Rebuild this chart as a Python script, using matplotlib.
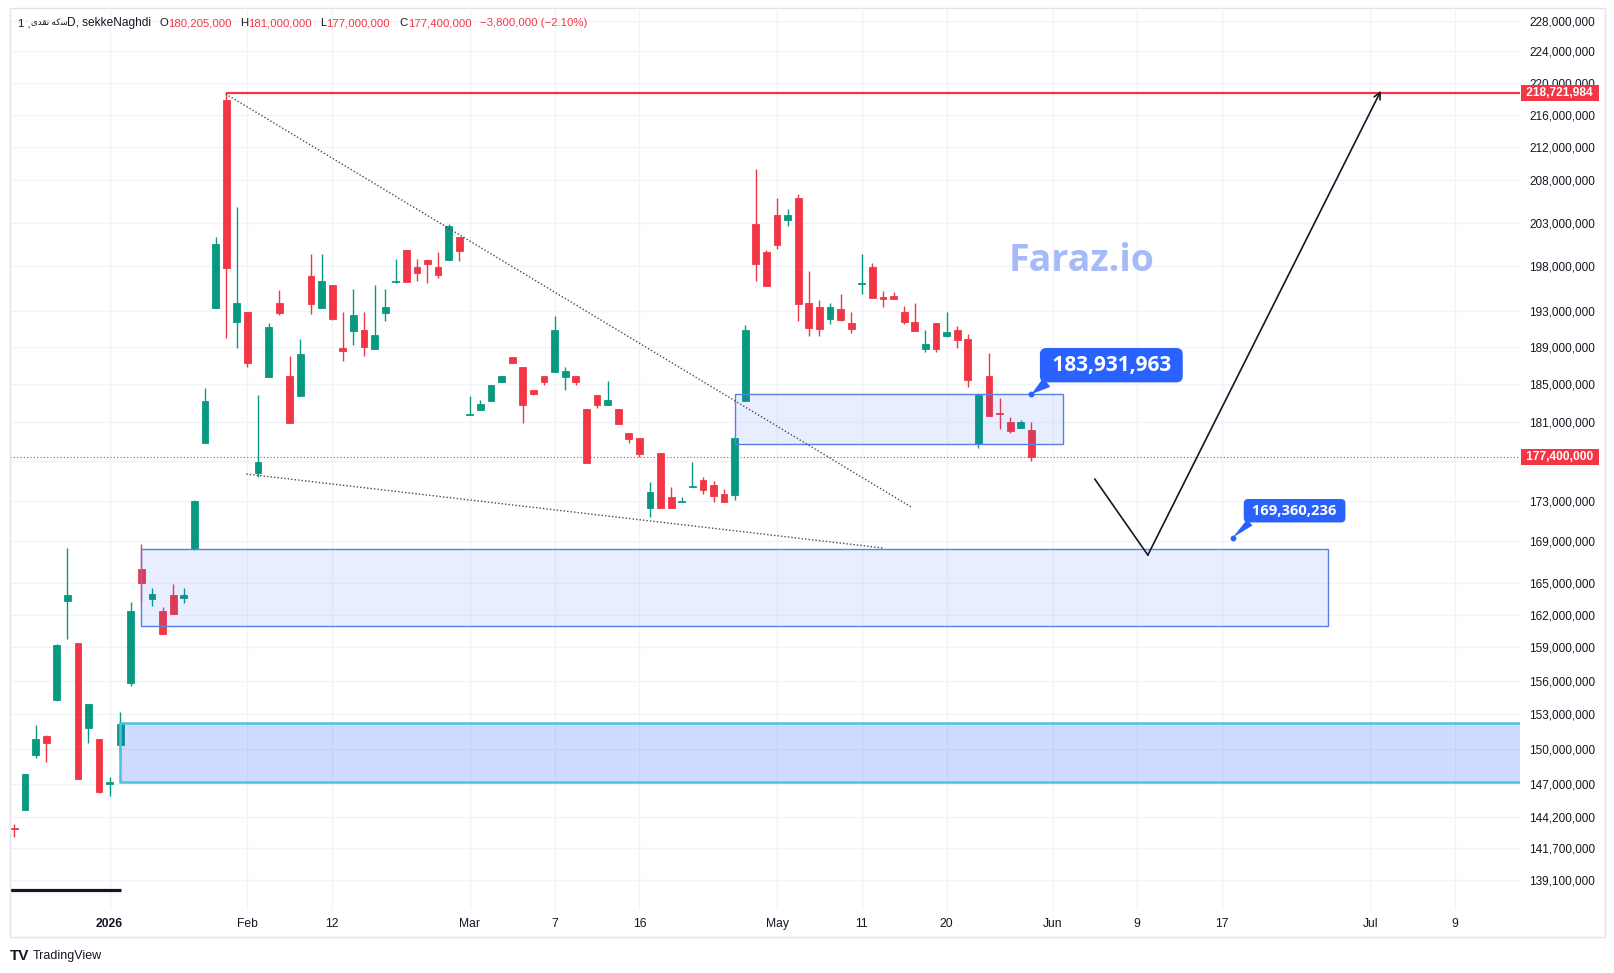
import matplotlib.pyplot as plt
import numpy as np
from matplotlib.patches import Rectangle
from matplotlib.ticker import FixedLocator, FuncFormatter, NullLocator
from matplotlib.transforms import blended_transform_factory

plt.rcParams['font.family'] = ['Liberation Sans', 'DejaVu Sans']

# ---- daily candles, prices in millions ----
opens = [143.3, 144.8, 149.47, 151.1, 154.27, 163.32, 159.37, 151.82, 150.85, 146.97,
         150.33, 155.81, 166.33, 163.48, 162.36, 163.85, 163.6, 168.23, 178.79, 193.31,
         217.8, 191.76, 192.8, 175.75, 185.79, 193.8, 185.86, 183.77, 196.86, 193.31,
         195.8, 188.91, 190.77, 190.85, 188.8, 192.76, 196.15, 199.82, 197.85, 198.68,
         197.89, 198.68, 201.35, 181.75, 182.24, 183.2, 185.22, 187.9, 186.8, 184.37,
         185.86, 186.32, 185.76, 185.86, 182.35, 183.84, 182.81, 182.35, 179.87, 179.35,
         172.31, 177.77, 173.34, 172.85, 174.35, 175.03, 174.53, 173.67, 173.6, 183.23,
         202.84, 199.6, 203.89, 203.3, 205.88, 193.8, 193.39, 192.09, 193.17, 191.6,
         195.94, 197.89, 194.45, 194.64, 192.83, 191.73, 188.78, 191.6, 190.22, 190.85,
         189.86, 178.72, 185.86, 181.95, 180.98, 180.36, 180.205]
highs = [143.65, 147.85, 152.05, 151.2, 159.3, 168.36, 159.37, 153.91, 150.85, 147.56,
         153.2, 163.2, 168.75, 164.51, 162.71, 164.9, 164.58, 173.05, 184.55, 201.35,
         218.72, 204.84, 192.8, 183.84, 191.58, 195.28, 188.01, 189.86, 199.37, 199.37,
         195.8, 192.8, 195.4, 192.8, 195.83, 195.4, 198.8, 199.82, 198.8, 198.8,
         199.6, 202.84, 201.35, 183.73, 183.31, 184.9, 185.86, 187.9, 186.8, 184.37,
         185.86, 192.39, 186.84, 185.86, 182.35, 183.84, 185.33, 182.35, 179.87, 179.35,
         174.86, 177.77, 174.33, 173.37, 176.9, 175.36, 174.93, 174.13, 179.35, 191.39,
         209.35, 199.82, 205.88, 204.6, 206.36, 197.4, 194.16, 193.8, 194.83, 192.83,
         199.37, 198.34, 195.17, 195.02, 193.5, 193.83, 190.85, 191.6, 192.83, 191.28,
         190.41, 184.02, 188.34, 183.48, 181.5, 181.18, 181.0]
lows = [142.6, 144.8, 149.23, 148.9, 154.2, 159.74, 147.39, 150.53, 146.2, 145.98,
        148.89, 155.55, 163.23, 162.83, 160.25, 162.11, 163.08, 168.2, 178.79, 193.3,
        189.93, 188.91, 186.84, 175.4, 185.79, 192.5, 180.88, 183.77, 192.59, 193.31,
        191.95, 187.49, 189.2, 188.01, 188.8, 191.87, 196.1, 196.2, 196.32, 196.09,
        196.67, 198.68, 198.57, 181.7, 182.24, 183.2, 185.22, 187.28, 180.94, 183.84,
        184.9, 186.32, 184.4, 184.9, 176.83, 182.43, 182.81, 180.83, 178.87, 177.42,
        171.42, 172.31, 172.31, 172.85, 174.33, 173.7, 172.87, 172.87, 173.07, 183.23,
        196.32, 195.76, 199.9, 202.64, 191.87, 190.22, 190.22, 191.53, 191.87, 190.55,
        194.83, 194.41, 193.42, 194.3, 191.53, 190.77, 188.49, 188.49, 190.11, 188.91,
        184.69, 178.35, 181.65, 180.26, 179.91, 180.36, 177.0]
closes = [143.2, 147.85, 150.85, 150.5, 159.2, 163.83, 147.39, 153.91, 146.34, 147.13,
          152.14, 162.36, 165.03, 164.01, 160.25, 162.11, 163.83, 172.97, 183.2, 200.51,
          197.81, 193.83, 187.28, 176.87, 191.2, 192.76, 180.88, 188.23, 193.75, 196.29,
          192.1, 188.59, 192.5, 189.02, 190.3, 193.39, 196.25, 196.2, 197.24, 198.26,
          197.01, 202.6, 199.74, 181.85, 182.88, 184.9, 185.86, 187.28, 182.78, 183.95,
          185.22, 190.85, 186.4, 185.22, 176.83, 182.81, 183.31, 180.83, 179.25, 177.73,
          173.87, 172.31, 172.31, 172.95, 174.5, 174.09, 173.5, 172.87, 179.35, 190.85,
          198.26, 195.76, 200.4, 203.89, 193.75, 191.09, 190.98, 193.39, 191.98, 190.98,
          196.05, 194.41, 194.23, 194.3, 191.73, 190.77, 189.35, 188.75, 190.63, 189.78,
          185.47, 183.84, 181.65, 181.85, 180.12, 180.98, 177.4]

price_ticks = [139.1, 141.7, 144.2, 147, 150, 153, 156, 159, 162, 165, 169, 173, 177,
               181, 185, 189, 193, 198, 203, 208, 212, 216, 220, 224, 228]
hidden_tick = 177  # covered by the last-price label on the scale
date_ticks = [9, 22, 30, 43, 51, 59, 72, 80, 88, 98, 106, 114, 128, 136]
date_labels = ['2026', 'Feb', '12', 'Mar', '7', '16', 'May', '11', '20', 'Jun', '9', '17', 'Jul', '9']

# drawings (bar index, price in millions)
resistance = 218.721984
resistance_start = 20
last_close = 177.4
upper_trend = ([19.95, 84.8], [218.6, 172.29])
lower_trend = ([21.9, 82.0], [175.68, 168.36])
zone_small = (68, 99, 178.75, 183.931963)
zone_big = (12, 124, 160.94, 168.23)
zone_demand = (9.95, 160, 147.16, 152.25)
base_line = ([-1, 10.05], [138.3, 138.3])
path_x = [102, 107, 129]
path_y = [175.16, 167.68, 219.0]
callouts = [(96, 183.931963), (115, 169.360236)]

GREEN = '#089981'
RED = '#f23645'
BLUE = '#2962ff'
DARK = '#131722'

W, H = 1615, 973
fig = plt.figure(figsize=(W / 100, H / 100), dpi=100)
ax = fig.add_axes([10 / W, 1 - 910 / H, 1510 / W, 900 / H])
ax.set_yscale('log')
ax.set_xlim(-0.41, 142.13)
ax.set_ylim(136.72, 229.41)

# candles
x = np.arange(len(opens))
o, h, l, c = (np.array(v) for v in (opens, highs, lows, closes))
cols = np.where(c >= o, GREEN, RED)
ax.vlines(x, l, h, colors=cols, lw=1, zorder=3)
lo = np.minimum(o, c)
hi = np.maximum(o, c)
ax.bar(x, hi - lo, bottom=lo, width=0.64, color=cols, edgecolor=cols, linewidth=0.6, zorder=4)

# levels and trendlines
ax.hlines(resistance, resistance_start, 150, color=RED, lw=1.6, zorder=6)
ax.axhline(last_close, color=RED, lw=0.8, ls=(0, (1, 2)), zorder=2)
ax.plot(*upper_trend, color='#4a4a4a', lw=1, ls=(0, (1, 1.5)), zorder=6)
ax.plot(*lower_trend, color='#4a4a4a', lw=1, ls=(0, (1, 1.5)), zorder=6)
ax.plot(*base_line, color=DARK, lw=2.3, solid_capstyle='butt', zorder=6)

# zones
for (x0, x1, y0, y1) in (zone_small, zone_big):
    ax.add_patch(Rectangle((x0, y0), x1 - x0, y1 - y0, fc=(0.16, 0.38, 1, 0.1),
                           ec='#5a7fe0', lw=1, zorder=5))
x0, x1, y0, y1 = zone_demand
ax.add_patch(Rectangle((x0, y0), x1 - x0, y1 - y0, fc=(0.16, 0.38, 1, 0.22),
                       ec='#4cc2dc', lw=1.8, zorder=5))

# projected path
ax.plot(path_x[:2], path_y[:2], color=DARK, lw=1.2, zorder=7)
ax.annotate('', xy=(path_x[2], path_y[2]), xytext=(path_x[1], path_y[1]),
            arrowprops=dict(arrowstyle='->', color=DARK, lw=1.2, mutation_scale=12,
                            shrinkA=0, shrinkB=0), zorder=7)

# price callouts
for (cx, cy), dxy, size in zip(callouts, [(80, 29), (62, 27)], [15, 10.6]):
    ax.plot(cx, cy, 'o', ms=3.2, color=BLUE, zorder=9)
    ax.annotate(f' {cy * 1e6:,.0f} ', xy=(cx, cy), xytext=dxy, textcoords='offset pixels',
                ha='center', va='center', color='white', fontsize=size,
                fontweight='bold', family='Open Sans',
                bbox=dict(boxstyle='round,pad=0.32,rounding_size=0.3', fc=BLUE, ec='none'),
                arrowprops=dict(arrowstyle='wedge,tail_width=0.55,shrink_factor=0.5',
                                fc=BLUE, ec='none', relpos=(0.08, 0.05),
                                shrinkA=0, shrinkB=0),
                zorder=9)

# watermark
ax.text(100.7, 198.6, 'Faraz.io', fontsize=27, fontweight='bold', family='Open Sans',
        color='#a6b9f8', ha='center', va='center', zorder=2)

# axes styling
ax.yaxis.tick_right()
ax.yaxis.set_major_locator(FixedLocator(price_ticks))
ax.yaxis.set_minor_locator(NullLocator())
ax.yaxis.set_major_formatter(FuncFormatter(
    lambda v, p: '' if abs(v - hidden_tick) < 1e-6 else f'{v * 1e6:,.0f}'))
ax.set_xticks(date_ticks)
ax.set_xticklabels(date_labels)
ax.get_xticklabels()[0].set_fontweight('bold')
ax.tick_params(axis='y', length=0, pad=6.5, labelsize=8.5, labelcolor=DARK)
ax.tick_params(axis='x', length=0, pad=6, labelsize=8.7, labelcolor=DARK)
ax.grid(True, color='#f0f3fa', lw=1)
ax.set_axisbelow(True)
for s in ax.spines.values():
    s.set_visible(False)

# price scale labels
trans = blended_transform_factory(ax.transAxes, ax.transData)
for p in (resistance, last_close):
    ax.text(1 + 3.5 / 1510, p, f' {p * 1e6:,.0f} ', transform=trans, ha='left', va='center',
            color='white', fontsize=8.6, fontweight='bold', clip_on=False, zorder=20,
            bbox=dict(boxstyle='square,pad=0.2', fc=RED, ec='none'))

# frame
fig.add_artist(Rectangle((10 / W, 1 - 937 / H), 1595 / W, 929 / H, transform=fig.transFigure,
                         fill=False, ec='#e0e3eb', lw=1))

# header legend
renderer = fig.canvas.get_renderer()
persian = '\ufbfc\ufeaa\ufed8\ufee7 \ufeea\ufb90\ufeb3'
groups = [(18.5, [('1 ,', DARK, 8.2), (persian, DARK, 6.3)]),
          (67, [('D, sekkeNaghdi', DARK, 8.6)]),
          (159.6, [('O', DARK, 8.2), ('180,205,000', RED, 8.2)]),
          (240, [('H', DARK, 8.2), ('181,000,000', RED, 8.2)]),
          (320, [('L', DARK, 8.2), ('177,000,000', RED, 8.2)]),
          (399.6, [('C', DARK, 8.2), ('177,400,000', RED, 8.2)]),
          (480, [('\u22123,800,000 (\u22122.10%)', RED, 8.2)])]
for gx, parts in groups:
    px = gx
    for txt, col, fs in parts:
        t = fig.text(px / W, 1 - 23 / H, txt, color=col, fontsize=fs, va='center', ha='left')
        px += t.get_window_extent(renderer).width

# footer logo
fig.text(10 / W, 1 - 956 / H, 'TV', fontsize=11, fontweight='bold', color=DARK, va='center')
fig.text(33 / W, 1 - 956 / H, 'TradingView', fontsize=9, color=DARK, va='center')

fig.savefig('out.png', dpi=100)
